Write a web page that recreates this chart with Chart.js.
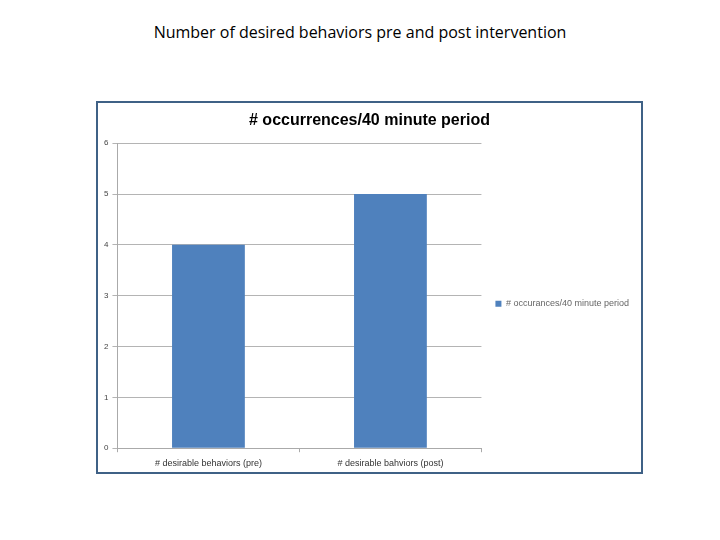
<!DOCTYPE html>
<html>
<head>
<meta charset="utf-8">
<script src="https://cdn.jsdelivr.net/npm/chart.js@4"></script>
<style>
  body { margin: 0; background: #fff; width: 720px; height: 540px; position: relative; font-family: "Open Sans", Arial, sans-serif; }
  #heading { position: absolute; top: 21px; left: 0; width: 720px; text-align: center; font-size: 16px; color: #000; }
  #box { position: absolute; left: 96px; top: 101px; width: 543px; height: 369px; border: 2px solid #3f6186; }
</style>
</head>
<body>
<div id="heading">Number of desired behaviors pre and post intervention</div>
<div id="box"><canvas id="c" width="543" height="369"></canvas></div>
<script>
// 데이터
var categories = ['# desirable behaviors (pre)', '# desirable bahviors (post)'];
var occurrences = [4, 5];
var seriesName = '# occurances/40 minute period';
var chartTitle = '# occurrences/40 minute period';
var yMin = 0, yMax = 6, yStep = 1;

Chart.defaults.font.family = '"Liberation Sans", Arial, sans-serif';
Chart.defaults.animation = false;

new Chart(document.getElementById('c'), {
    type: 'bar',
    data: {
        labels: categories,
        datasets: [{
            label: seriesName,
            data: occurrences,
            backgroundColor: '#4f81bd',
            borderWidth: 0,
            barPercentage: 0.4,
            categoryPercentage: 1
        }]
    },
    options: {
        responsive: false,
        layout: { padding: { left: 2, right: 2, top: 0, bottom: -3 } },
        plugins: {
            title: {
                display: true,
                text: chartTitle,
                color: '#000',
                font: { size: 16, weight: 'bold' },
                padding: { top: 8, bottom: 13 }
            },
            legend: {
                position: 'right',
                maxWidth: 220,
                // 빈 제목으로 범례를 조금 아래로
                title: { display: true, text: ' ', font: { size: 8 }, padding: { top: 20, bottom: 0 } },
                labels: {
                    boxWidth: 6, boxHeight: 6,
                    color: '#666',
                    font: { size: 9 },
                    padding: 14
                }
            },
            tooltip: { enabled: false }
        },
        scales: {
            x: {
                grid: { display: true, drawOnChartArea: false, color: '#aaa', tickLength: 4, offset: true },
                border: { color: '#aaa' },
                ticks: { color: '#333', font: { size: 9 }, padding: 6 }
            },
            y: {
                min: yMin, max: yMax,
                grid: { color: '#b4b4b4', tickLength: 5 },
                border: { color: '#aaa' },
                ticks: { stepSize: yStep, color: '#444', font: { size: 8 }, padding: 4 }
            }
        }
    }
});
</script>
</body>
</html>
